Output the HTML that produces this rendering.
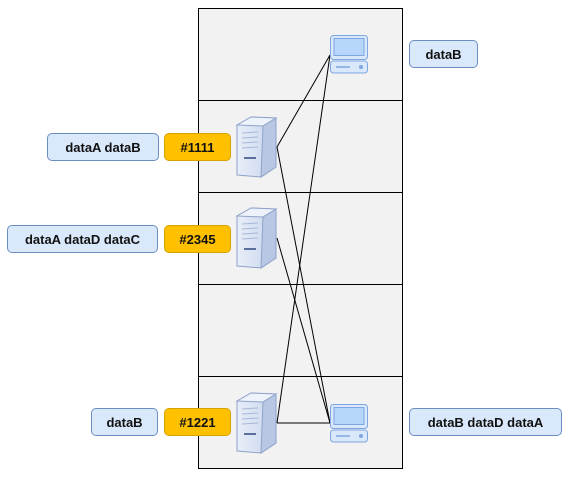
<!DOCTYPE html>
<html><head><style>
body{margin:0;width:569px;height:479px;background:#fff;position:relative;font-family:"Liberation Sans",sans-serif;overflow:hidden}
.lbl{position:absolute;box-sizing:border-box;height:28px;border:1px solid #6c8ebf;border-radius:5px;background:#dae8fc;font-weight:bold;font-size:13px;display:flex;align-items:center;justify-content:center;color:#111}
.tag{background:#ffc000;border-color:#d6a300}
</style></head><body>
<svg width="569" height="479" style="position:absolute;left:0;top:0">
<defs>
<linearGradient id="sg" x1="0" x2="1"><stop offset="0" stop-color="#e8eef8"/><stop offset="1" stop-color="#c6d4ec"/></linearGradient>
<g id="srv">
<path d="M1,10 L15,2 L40,3 L40,52 L25,62 L1,60 Z" fill="url(#sg)" stroke="#8fa3c9" stroke-width="1"/>
<path d="M1,10 L15,2 L40,3 L27,11 Z" fill="#eef2fa" stroke="#8fa3c9" stroke-width="1"/>
<path d="M27,11 L40,3 L40,52 L25,62 Z" fill="#b7c7e4" stroke="#8fa3c9" stroke-width="1"/>
<g stroke="#a9b9d8" stroke-width="1"><line x1="6" y1="18" x2="22" y2="17"/><line x1="6" y1="23" x2="22" y2="22"/><line x1="6" y1="28" x2="22" y2="27"/><line x1="6" y1="33" x2="22" y2="32"/></g>
<line x1="8" y1="43" x2="20" y2="43" stroke="#5a6f99" stroke-width="2"/>
</g>
<g id="mon">
<rect x="0.5" y="0.5" width="37" height="24" rx="3" fill="#dae8fc" stroke="#7ea6e0"/>
<rect x="4" y="3.5" width="30" height="17" fill="#b7d6fb" stroke="#7ea6e0"/>
<rect x="0.5" y="26" width="37" height="12" rx="3" fill="#dae8fc" stroke="#7ea6e0"/>
<line x="0" x1="6" y1="32" x2="20" y2="32" stroke="#7ea6e0" stroke-width="1.5"/>
<circle cx="31" cy="32" r="2" fill="#7ea6e0"/>
</g>
</defs>
<rect x="198.5" y="8.5" width="204" height="460" fill="#f2f2f2" stroke="#000"/>
<g stroke="#000"><line x1="198" y1="100.5" x2="402" y2="100.5"/><line x1="198" y1="192.5" x2="402" y2="192.5"/><line x1="198" y1="284.5" x2="402" y2="284.5"/><line x1="198" y1="376.5" x2="402" y2="376.5"/></g>
<g stroke="#000" fill="none" stroke-width="1">
<line x1="277" y1="147" x2="330" y2="55"/>
<line x1="277" y1="147" x2="330" y2="423"/>
<line x1="277" y1="238" x2="330" y2="423"/>
<line x1="277" y1="423" x2="330" y2="55"/>
<line x1="277" y1="423" x2="330" y2="423"/>
</g>
<use href="#srv" x="236" y="115"/>
<use href="#srv" x="236" y="206"/>
<use href="#srv" x="236" y="391"/>
<use href="#mon" x="330" y="35"/>
<use href="#mon" x="330" y="404"/>
</svg>
<div class="lbl" style="left:47px;top:133px;width:112px">dataA dataB</div>
<div class="lbl tag" style="left:164px;top:133px;width:67px">#1111</div>
<div class="lbl" style="left:7px;top:225px;width:151px">dataA dataD dataC</div>
<div class="lbl tag" style="left:164px;top:225px;width:67px">#2345</div>
<div class="lbl" style="left:91px;top:408px;width:67px">dataB</div>
<div class="lbl tag" style="left:164px;top:408px;width:67px">#1221</div>
<div class="lbl" style="left:409px;top:40px;width:69px">dataB</div>
<div class="lbl" style="left:409px;top:408px;width:153px">dataB dataD dataA</div>
</body></html>
